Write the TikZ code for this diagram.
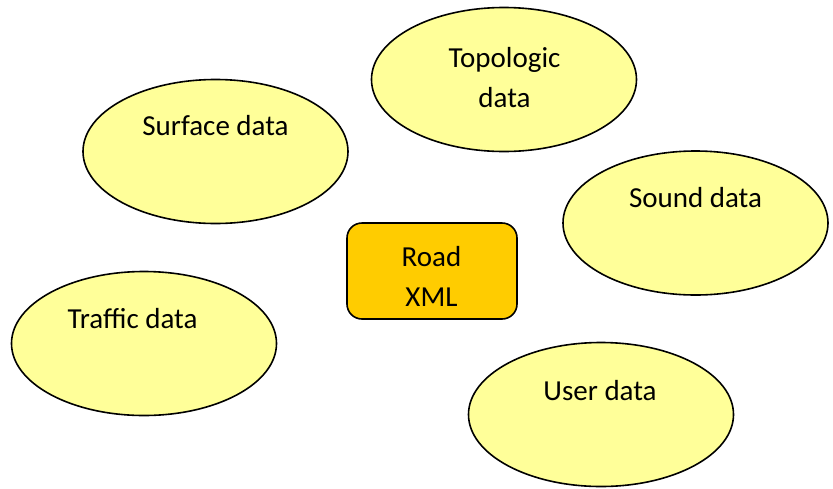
\documentclass[tikz,border=0pt]{standalone}
\usepackage{fontspec}
\setmainfont{Carlito}
\usetikzlibrary{shapes.geometric}
\definecolor{lightyel}{HTML}{FFFF99}
\definecolor{roadfill}{HTML}{FFCC00}
\tikzset{
  blob/.style={ellipse, draw=black, line width=1.6pt, fill=lightyel, inner sep=0pt,
    minimum width=265pt, minimum height=144pt},
  roadbox/.style={rectangle, rounded corners=15pt, draw=black, line width=1.6pt, fill=roadfill,
    inner sep=0pt, minimum width=170pt, minimum height=96pt},
  lbl/.style={anchor=base, inner sep=0pt, align=center, font=\fontsize{29}{40}\selectfont}
}
\begin{document}
\begin{tikzpicture}[x=1pt,y=-1pt]
\useasboundingbox (0,0) rectangle (833,488);
\node[blob] (surface) at (215.5,151.5) {};
\node[blob] (topo) at (504,79.5) {};
\node[blob] (sound) at (695.5,223) {};
\node[blob] (traffic) at (144,343.5) {};
\node[blob] (user) at (601,414.5) {};
\node[roadbox] (road) at (432,271) {};
\node[lbl] (surfacet) at (215.5,135) {Surface data};
\node[lbl] (topot) at (504.5,107) {Topologic\\data};
\node[lbl] (soundt) at (695.5,207) {Sound data};
\node[lbl] (traffict) at (132.5,328) {Traffic data};
\node[lbl] (usert) at (600,400) {User data};
\node[lbl] (roadt) at (431.5,306) {Road\\XML};
\end{tikzpicture}
\end{document}
